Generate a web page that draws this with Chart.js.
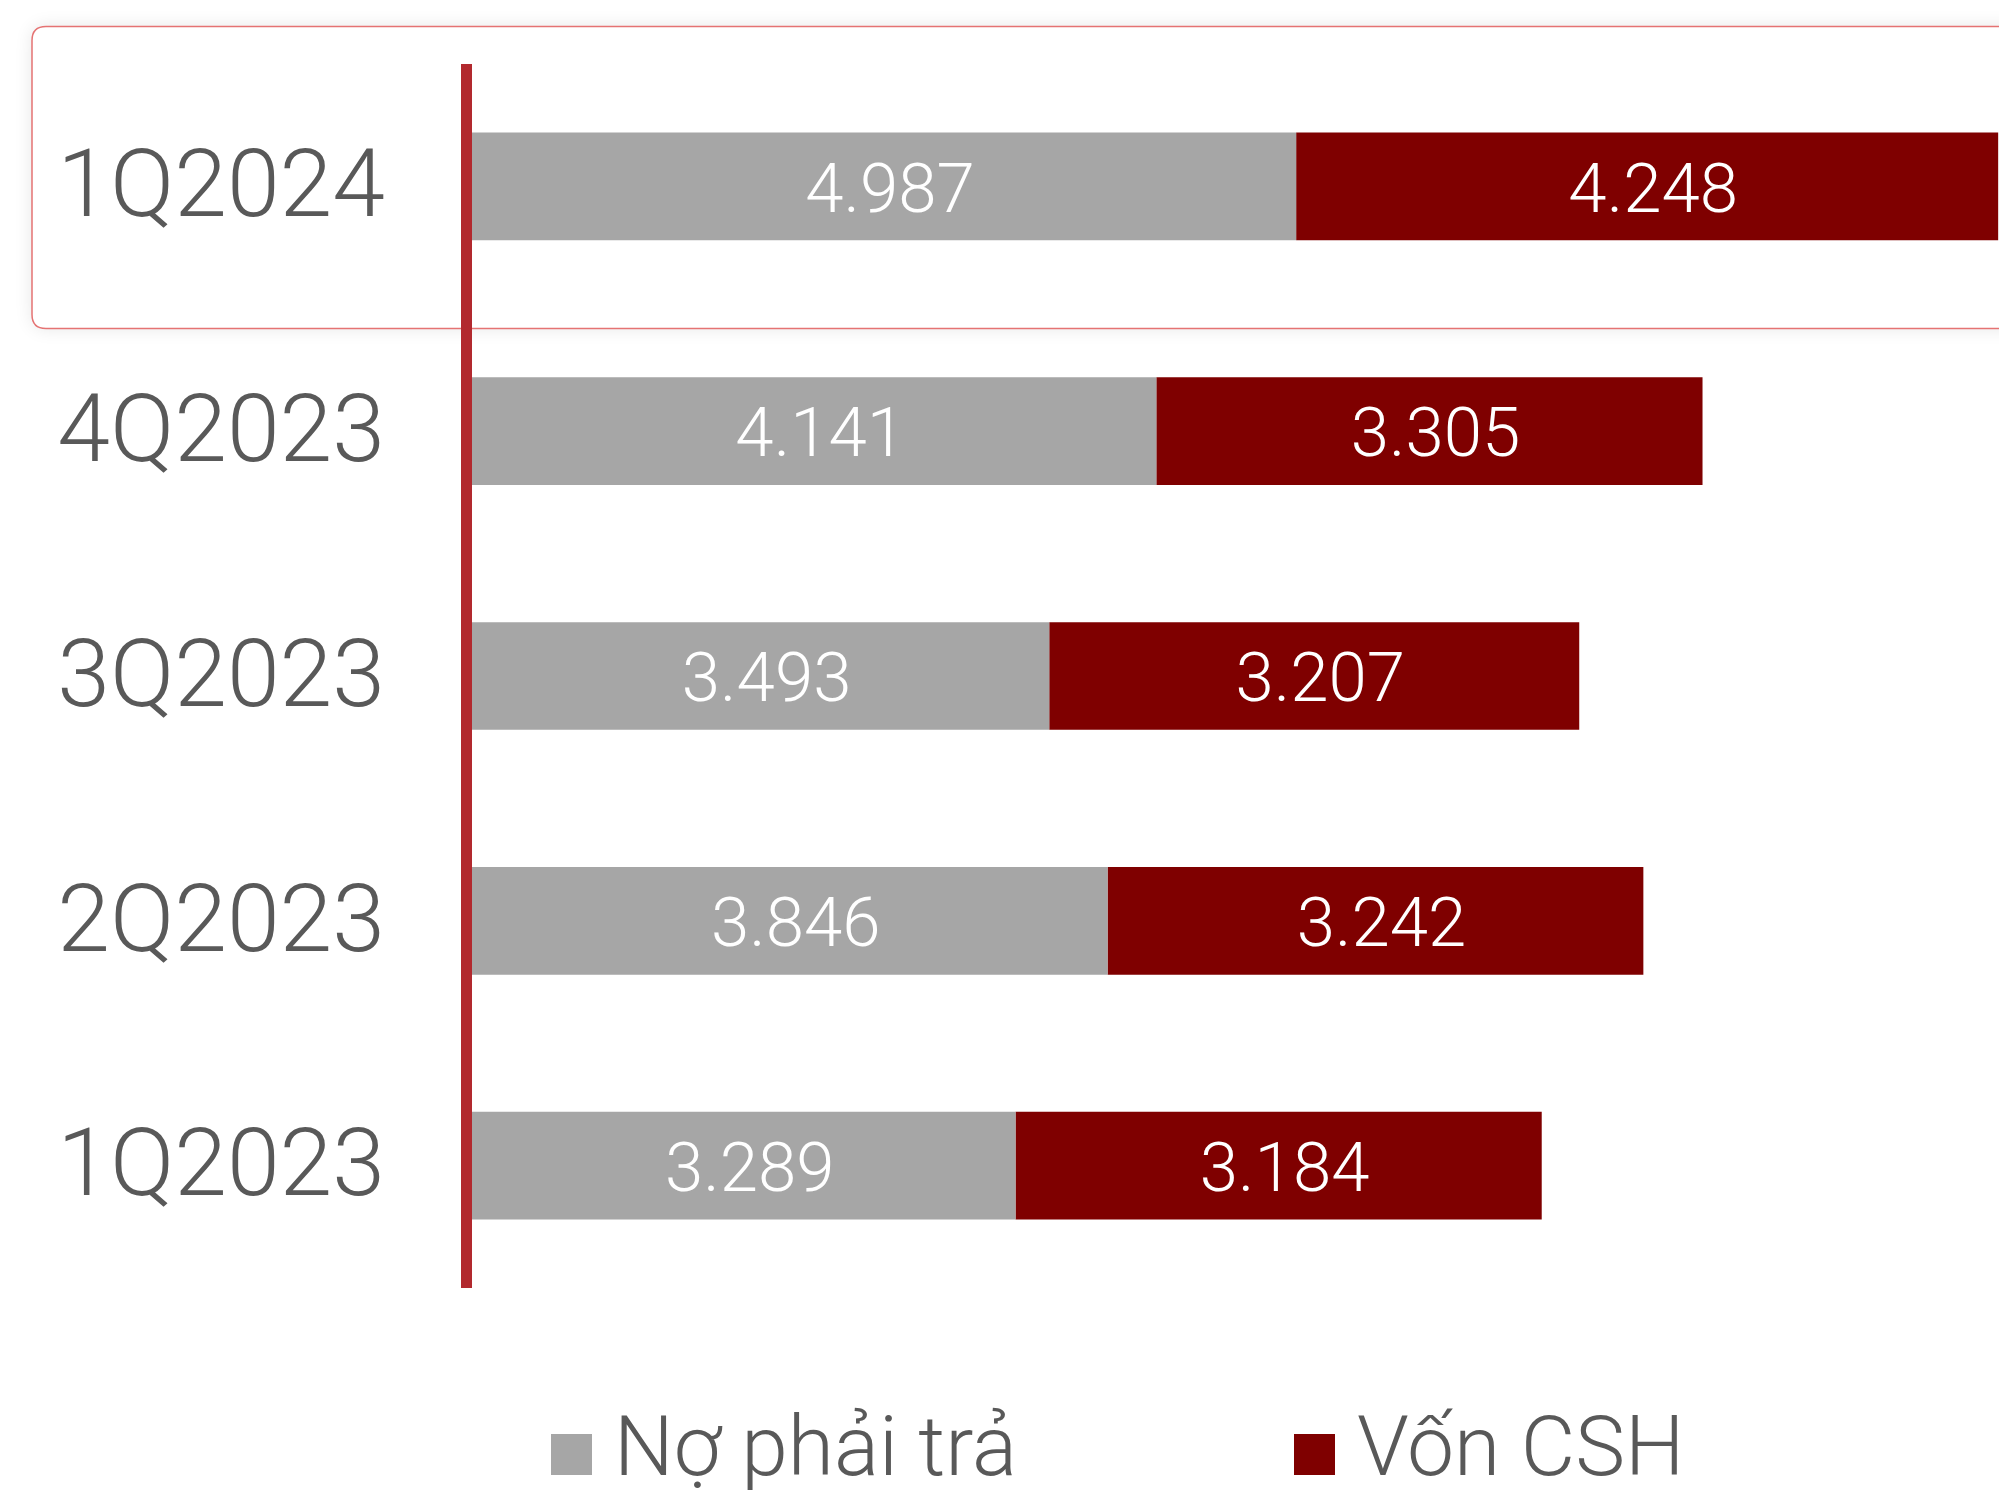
<!DOCTYPE html>
<html><head><meta charset="utf-8">
<script src="https://cdn.jsdelivr.net/npm/chart.js@4.4.1/dist/chart.umd.min.js"></script>
<style>html,body{margin:0;padding:0;background:#fff;overflow:hidden;}#wrap{width:1999px;height:1490px;}</style>
</head><body><div id="wrap"><canvas id="c" width="1999" height="1490"></canvas></div>
<script>
const categories = ['1Q2024', '4Q2023', '3Q2023', '2Q2023', '1Q2023'];
const liabilities = [4987, 4141, 3493, 3846, 3289];
const equity = [4248, 3305, 3207, 3242, 3184];
const seriesNames = ['Nợ phải trả', 'Vốn CSH'];
const seriesColors = ['#A6A6A6', '#7F0000'];
const xMax = 9240;

const FONT = 'Roboto, "Open Sans", sans-serif';
const TEXT_GRAY = '#595959';

function fmt(v) {
  const th = Math.floor(v / 1000);
  const rest = String(v % 1000).padStart(3, '0');
  return th + '.' + rest;
}

const highlightPlugin = {
  id: 'highlight',
  beforeDraw(chart) {
    const y = chart.scales.y;
    const c = y.getPixelForValue(0);
    const top = c - 160, bottom = c + 142, left = 32, right = chart.width + 40, r = 14;
    const ctx = chart.ctx;
    ctx.save();
    ctx.beginPath();
    ctx.moveTo(left + r, top);
    ctx.lineTo(right, top);
    ctx.lineTo(right, bottom);
    ctx.lineTo(left + r, bottom);
    ctx.quadraticCurveTo(left, bottom, left, bottom - r);
    ctx.lineTo(left, top + r);
    ctx.quadraticCurveTo(left, top, left + r, top);
    ctx.closePath();
    ctx.shadowColor = 'rgba(0,0,0,0.10)';
    ctx.shadowBlur = 18;
    ctx.fillStyle = '#ffffff';
    ctx.fill();
    ctx.shadowColor = 'transparent';
    ctx.lineWidth = 1.5;
    ctx.strokeStyle = '#E57373';
    ctx.stroke();
    ctx.restore();
  }
};

const axisLinePlugin = {
  id: 'axisLine',
  beforeDatasetsDraw(chart) {
    const a = chart.chartArea;
    const ctx = chart.ctx;
    ctx.save();
    ctx.fillStyle = '#B2292E';
    ctx.fillRect(a.left - 11, a.top, 11, a.bottom - a.top);
    ctx.restore();
  }
};

const valueLabelPlugin = {
  id: 'valueLabels',
  afterDatasetsDraw(chart) {
    const ctx = chart.ctx;
    ctx.save();
    ctx.font = '300 69px ' + FONT;
    ctx.fillStyle = '#ffffff';
    ctx.textAlign = 'center';
    ctx.textBaseline = 'middle';
    chart.data.datasets.forEach((ds, di) => {
      const meta = chart.getDatasetMeta(di);
      meta.data.forEach((el, i) => {
        const p = el.getProps(['x', 'y', 'base'], true);
        const right = Math.min(p.x, chart.width + 26);
        ctx.fillText(fmt(ds.data[i]), (right + p.base) / 2 + 6, p.y + 8);
      });
    });
    ctx.restore();
  }
};

const legendPlugin = {
  id: 'customLegend',
  afterDraw(chart) {
    const ctx = chart.ctx;
    const boxX = [551, 1294];
    const cy = 1454;
    ctx.save();
    ctx.font = '300 84px ' + FONT;
    ctx.textBaseline = 'middle';
    ctx.textAlign = 'left';
    chart.data.datasets.forEach((ds, i) => {
      ctx.fillStyle = ds.backgroundColor;
      ctx.fillRect(boxX[i], cy - 20, 41, 41);
      ctx.fillStyle = TEXT_GRAY;
      ctx.fillText(ds.label, boxX[i] + 63, cy);
    });
    ctx.restore();
  }
};

new Chart(document.getElementById('c'), {
  type: 'bar',
  data: {
    labels: categories,
    datasets: [
      { label: seriesNames[0], data: liabilities, backgroundColor: seriesColors[0], borderWidth: 0 },
      { label: seriesNames[1], data: equity, backgroundColor: seriesColors[1], borderWidth: 0 }
    ]
  },
  options: {
    indexAxis: 'y',
    responsive: false,
    animation: false,
    devicePixelRatio: 1,
    datasets: { bar: { categoryPercentage: 1, barPercentage: 0.44 } },
    layout: { padding: { top: 64, bottom: 202, left: 0, right: 0 } },
    plugins: { legend: { display: false }, tooltip: { enabled: false } },
    scales: {
      x: { display: false, stacked: true, min: 0, max: xMax },
      y: {
        stacked: true,
        grid: { display: false, drawTicks: false },
        border: { display: false },
        ticks: { padding: 87, labelOffset: 6, color: TEXT_GRAY, font: { family: FONT, size: 95, weight: 300 } },
        afterFit(s) { s.width = 472; s.paddingTop = 0; s.paddingBottom = 0; }
      }
    }
  },
  plugins: [highlightPlugin, axisLinePlugin, valueLabelPlugin, legendPlugin]
});
</script>
</body></html>
